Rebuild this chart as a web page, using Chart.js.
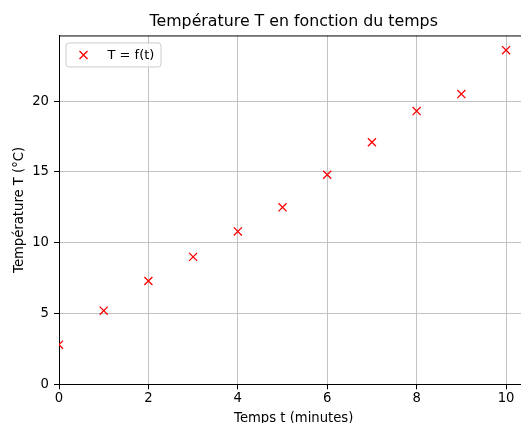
<!DOCTYPE html>
<html lang="fr">
<head>
<meta charset="utf-8">
<title>Température T en fonction du temps</title>
<script src="https://cdn.jsdelivr.net/npm/chart.js@4.4.1/dist/chart.umd.min.js"></script>
<style>
  html, body { margin: 0; padding: 0; background: #fff; overflow: hidden; }
  #wrap { width: 521px; height: 423px; overflow: hidden; }
</style>
</head>
<body>
<div id="wrap"><canvas id="chart" width="545" height="440"></canvas></div>
<script>
// données
const temps = [0, 1, 2, 3, 4, 5, 6, 7, 8, 9, 10];
const temperatures = [2.8, 5.2, 7.3, 9.0, 10.8, 12.5, 14.8, 17.1, 19.3, 20.5, 23.6];
const xTicks = [0, 2, 4, 6, 8, 10];
const yTicks = [0, 5, 10, 15, 20];
const serieLabel = 'T = f(t)';

const police = '"DejaVu Sans", "Liberation Sans", sans-serif';
Chart.defaults.font.family = police;
Chart.defaults.color = '#000';

// cadre haut/droite comme les axes de matplotlib
const cadre = {
    id: 'cadre',
    beforeDatasetsDraw(chart) {
        const { ctx, chartArea: a } = chart;
        ctx.save();
        ctx.strokeStyle = '#000';
        ctx.lineWidth = 1;
        ctx.beginPath();
        ctx.moveTo(a.left, a.top + 0.5);
        ctx.lineTo(a.right, a.top + 0.5);
        ctx.lineTo(a.right, a.bottom);
        ctx.stroke();
        ctx.restore();
    }
};

// légende encadrée dans le coin haut gauche
const legende = {
    id: 'legende',
    afterDatasetsDraw(chart) {
        const { ctx, chartArea: a } = chart;
        const ds = chart.data.datasets[0];
        const x = a.left + 7, y = a.top + 7.5, w = 95, h = 24;
        ctx.save();
        ctx.beginPath();
        ctx.roundRect(x, y, w, h, 3);
        ctx.fillStyle = 'rgba(255,255,255,0.8)';
        ctx.fill();
        ctx.strokeStyle = '#cccccc';
        ctx.lineWidth = 1;
        ctx.stroke();

        const mx = x + 17.5, my = y + h / 2, d = 4;
        ctx.strokeStyle = ds.borderColor;
        ctx.lineWidth = ds.borderWidth;
        ctx.beginPath();
        ctx.moveTo(mx - d, my - d); ctx.lineTo(mx + d, my + d);
        ctx.moveTo(mx - d, my + d); ctx.lineTo(mx + d, my - d);
        ctx.stroke();

        ctx.fillStyle = '#000';
        ctx.font = '13px ' + police;
        ctx.textBaseline = 'middle';
        ctx.textAlign = 'left';
        ctx.fillText(ds.label, x + 41.5, my + 0.5);
        ctx.restore();
    }
};

new Chart(document.getElementById('chart'), {
    type: 'scatter',
    data: {
        datasets: [{
            label: serieLabel,
            data: temps.map((t, i) => ({ x: t, y: temperatures[i] })),
            pointStyle: 'crossRot',
            pointRadius: 5.7,
            pointHoverRadius: 5.7,
            borderColor: '#ff0000',
            backgroundColor: '#ff0000',
            borderWidth: 1.3,
            clip: 0
        }]
    },
    options: {
        responsive: false,
        animation: false,
        devicePixelRatio: 1,
        events: [],
        layout: { padding: { left: 0, right: 16.6, top: 0, bottom: 5.7 } },
        plugins: {
            legend: { display: false },
            tooltip: { enabled: false },
            title: {
                display: true,
                fullSize: false,
                text: 'Température T en fonction du temps',
                color: '#000',
                font: { size: 15.8, weight: 'normal' },
                padding: { top: 12, bottom: 4.5 }
            }
        },
        scales: {
            x: {
                type: 'linear',
                min: 0,
                max: 10.5,
                afterBuildTicks: s => { s.ticks = xTicks.map(v => ({ value: v })); },
                afterFit: s => { s.height = 50; },
                ticks: { font: { size: 13.2 }, padding: 1.5, maxRotation: 0, color: '#000' },
                grid: { color: '#c2c2c2', lineWidth: 1, tickColor: '#000', tickLength: 5 },
                border: { color: '#000', width: 1 },
                title: {
                    display: true,
                    text: 'Temps t (minutes)',
                    font: { size: 13.2 },
                    color: '#000',
                    padding: { top: 0, bottom: 7.5 }
                }
            },
            y: {
                type: 'linear',
                min: 0,
                max: 24.64,
                afterBuildTicks: s => { s.ticks = yTicks.map(v => ({ value: v })); },
                afterFit: s => { s.width = 59; },
                ticks: { font: { size: 13.2 }, padding: 5, color: '#000' },
                grid: { color: '#c2c2c2', lineWidth: 1, tickColor: '#000', tickLength: 5 },
                border: { color: '#000', width: 1 },
                title: {
                    display: true,
                    text: 'Température T (°C)',
                    font: { size: 13.2 },
                    color: '#000',
                    padding: { top: 11.5, bottom: 0 }
                }
            }
        }
    },
    plugins: [cadre, legende]
});
</script>
</body>
</html>
